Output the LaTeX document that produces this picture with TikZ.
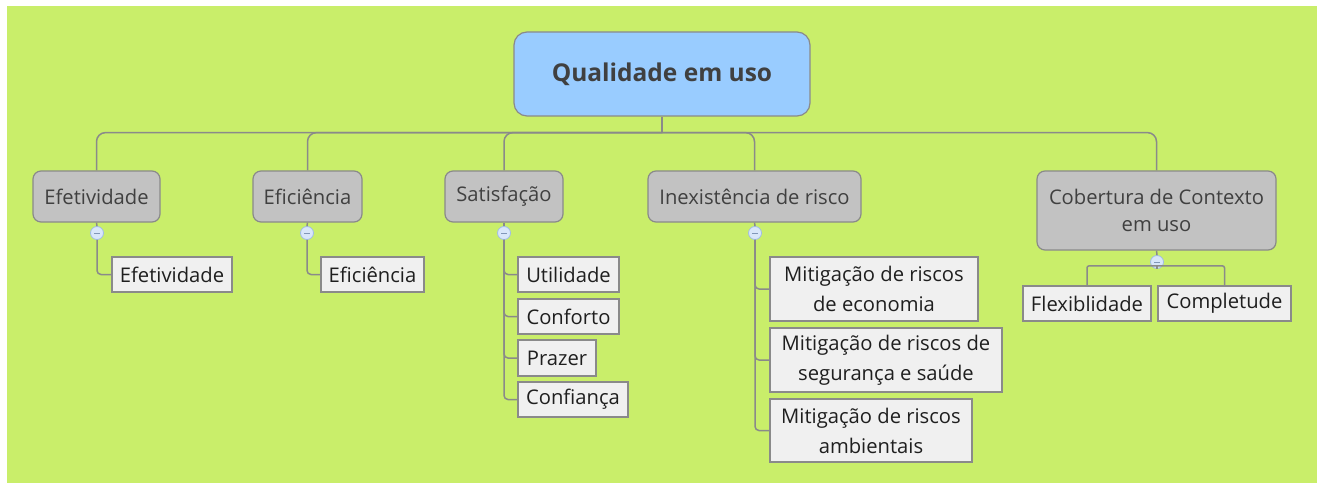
\documentclass[tikz,border=0pt]{standalone}
\usepackage{fontspec}
\setmainfont{Open Sans}
\definecolor{bggreen}{HTML}{C9EE6A}
\definecolor{rootblue}{HTML}{99CCFF}
\definecolor{maingray}{HTML}{C2C2C2}
\definecolor{leaffill}{HTML}{F0F0F0}
\definecolor{linegray}{HTML}{8A8A8A}
\definecolor{txtdark}{HTML}{404040}
\definecolor{circfill}{HTML}{D8E6FA}
\definecolor{circline}{HTML}{A0BCE6}
\tikzset{
  rootbox/.style={draw=linegray, line width=1.2pt, fill=rootblue, rounded corners=13pt, text=txtdark, font=\fontsize{24.5}{30}\selectfont\bfseries, inner sep=0pt},
  mainbox/.style={draw=linegray, line width=1.2pt, fill=maingray, rounded corners=8pt, text=txtdark, font=\fontsize{20.2}{27}\selectfont, align=center, inner sep=0pt},
  leafbox/.style={draw=linegray, line width=1.2pt, fill=leaffill, text=black!88, font=\fontsize{20.2}{30}\selectfont, align=center, inner sep=0pt},
  conn/.style={draw=linegray, line width=1.5pt},
  collapse/.style={circle, draw=circline, fill=circfill, line width=0.8pt, minimum size=13pt, inner sep=0pt},
  minus/.style={draw=circline!80!black, line width=1pt}
}
\begin{document}
\begin{tikzpicture}[x=1pt,y=-1pt]
\useasboundingbox (0,0) rectangle (1319,484);
\fill[white] (0,0) rectangle (1319,484);
\fill[bggreen] (7,6) rectangle (1317,483);

% nodes
\node[rootbox, minimum width=296pt, minimum height=84pt] (root) at (662,74) {Qualidade em uso};

\node[mainbox, minimum width=127pt, minimum height=51pt] (efe) at (96.5,196.5) {Efetividade};
\node[mainbox, minimum width=109pt, minimum height=51pt] (efi) at (307.5,196.5) {Eficiência};
\node[mainbox, minimum width=118pt, minimum height=51pt] (sat) at (504,196.5) {Satisfação};
\node[mainbox, minimum width=213pt, minimum height=51pt] (ine) at (754.5,196.5) {Inexistência de risco};
\node[mainbox, minimum width=239pt, minimum height=79pt] (cob) at (1156.5,210.5) {Cobertura de Contexto\\em uso};

\node[leafbox, minimum width=120pt, minimum height=35pt] (efeL) at (172,274.5) {Efetividade};
\node[leafbox, minimum width=103pt, minimum height=35pt] (efiL) at (372.5,274.5) {Eficiência};
\node[leafbox, minimum width=101pt, minimum height=35pt] (util) at (568.5,274.5) {Utilidade};
\node[leafbox, minimum width=101pt, minimum height=35pt] (conf) at (568.5,316.5) {Conforto};
\node[leafbox, minimum width=78pt, minimum height=36pt] (praz) at (557,358) {Prazer};
\node[leafbox, minimum width=110pt, minimum height=35pt] (cnf) at (573,399.5) {Confiança};
\node[leafbox, minimum width=208pt, minimum height=64pt] (mit1) at (874,289) {Mitigação de riscos\\de economia};
\node[leafbox, minimum width=232pt, minimum height=64pt] (mit2) at (886,360) {Mitigação de riscos de\\segurança e saúde};
\node[leafbox, minimum width=202pt, minimum height=63pt] (mit3) at (871,430.5) {Mitigação de riscos\\ambientais};
\node[leafbox, minimum width=128pt, minimum height=35pt] (flex) at (1087,303.5) {Flexiblidade};
\node[leafbox, minimum width=133pt, minimum height=35pt] (comp) at (1224.5,303.5) {Completude};

% root connectors
\coordinate (hub) at ([yshift=-16pt]root.south);
\draw[conn] (root.south) -- (hub);
\foreach \n in {efe,efi,sat,ine,cob}{
  \draw[conn, rounded corners=9pt] (hub) -| (\n.north);
}

% collapse circles
\node[collapse] (c1) at (97,233) {};
\node[collapse] (c2) at (307,233) {};
\node[collapse] (c3) at (504,233) {};
\node[collapse] (c4) at (755,233) {};
\node[collapse] (c5) at (1157,262) {};

\draw[conn] (efe.south) -- (c1.north);
\draw[conn] (efi.south) -- (c2.north);
\draw[conn] (sat.south) -- (c3.north);
\draw[conn] (ine.south) -- (c4.north);
\draw[conn] (cob.south) -- (c5.north);

% child connectors
\draw[conn, rounded corners=4pt] (c1.south) |- (efeL.west);
\draw[conn, rounded corners=4pt] (c2.south) |- (efiL.west);
\foreach \n in {util,conf,praz,cnf}{
  \draw[conn, rounded corners=4pt] (c3.south) |- (\n.west);
}
\foreach \n in {mit1,mit2,mit3}{
  \draw[conn, rounded corners=4pt] (c4.south) |- (\n.west);
}
\coordinate (cobhub) at ([yshift=3pt]c5.south);
\draw[conn] (c5.south) -- (cobhub);
\draw[conn, rounded corners=2pt] (cobhub) -| (flex.north);
\draw[conn, rounded corners=2pt] (cobhub) -| (comp.north);

% minus signs
\foreach \c in {c1,c2,c3,c4,c5}{
  \draw[minus] ([xshift=-3pt]\c.center) -- ([xshift=3pt]\c.center);
}
\end{tikzpicture}
\end{document}
